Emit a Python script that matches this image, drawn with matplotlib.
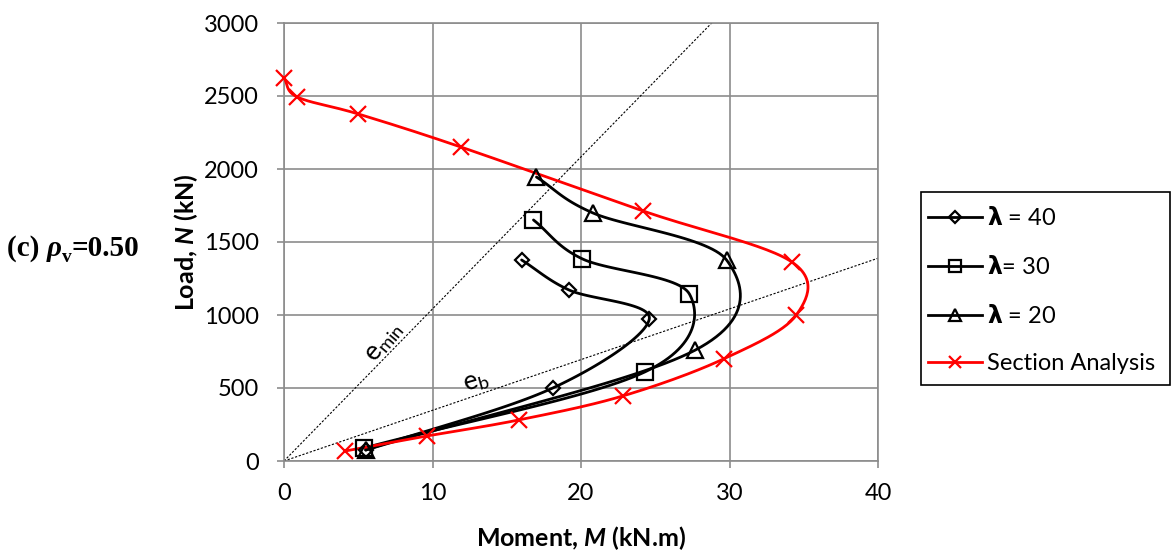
import matplotlib
matplotlib.use("Agg")
import matplotlib.pyplot as plt
from matplotlib.patches import Rectangle
import numpy as np

plt.rcParams['font.family'] = ['Lato', 'DejaVu Sans']
plt.rcParams['mathtext.fontset'] = 'custom'
plt.rcParams['mathtext.rm'] = 'Lato'
plt.rcParams['mathtext.it'] = 'Lato:italic'
plt.rcParams['mathtext.bf'] = 'DejaVu Sans:bold'
plt.rcParams['mathtext.bfit'] = 'Lato:bold:italic'

# moment M (kN.m) and load N (kN)
m_l40 = [16.0, 19.2, 24.6, 18.1, 5.5]
n_l40 = [1377, 1171, 973, 500, 75]
m_l30 = [16.8, 20.1, 27.3, 24.3, 5.4]
n_l30 = [1651, 1384, 1144, 610, 89]
m_l20 = [17.0, 20.8, 29.8, 27.7, 5.5]
n_l20 = [1945, 1699, 1377, 760, 75]
m_sec = [0.0, 0.9, 5.0, 11.9, 24.2, 34.2, 34.5, 29.6, 22.8, 15.8, 9.6, 4.1]
n_sec = [2623, 2493, 2377, 2151, 1712, 1363, 1000, 699, 445, 281, 171, 68]

# eccentricities (m) of the reference lines
e_min = 0.0096
e_b = 0.0288

GRID = '#8c8c8c'
W, H = 1171, 554


def smooth(x, y, n=30):
    # uniform Catmull-Rom through the points, like a spreadsheet "smoothed line"
    p = np.column_stack([x, y]).astype(float)
    p = np.vstack([2 * p[0] - p[1], p, 2 * p[-1] - p[-2]])
    t = np.linspace(0, 1, n)[:, None]
    out = []
    for i in range(1, len(p) - 2):
        p0, p1, p2, p3 = p[i - 1], p[i], p[i + 1], p[i + 2]
        seg = 0.5 * ((2 * p1) + (-p0 + p2) * t + (2 * p0 - 5 * p1 + 4 * p2 - p3) * t ** 2
                     + (-p0 + 3 * p1 - 3 * p2 + p3) * t ** 3)
        out.append(seg if i == 1 else seg[1:])
    out = np.vstack(out)
    return out[:, 0], out[:, 1]


fig = plt.figure(figsize=(W / 100, H / 100), dpi=100)
ax = fig.add_axes([284 / W, 1 - 461 / H, 594 / W, 438 / H])

# reference eccentricity lines through the origin
mm = np.array([0, 40.0])
ax.plot(mm, mm / e_min, color='black', lw=0.8, ls=(0, (2, 1.5)), zorder=2)
ax.plot(mm, mm / e_b, color='black', lw=0.8, ls=(0, (2, 1.5)), zorder=2)
ax.text(6.7, 815, r'e$_{\rm min}$', fontsize=19, rotation=50, ha='center', va='center')
ax.text(12.9, 545, r'e$_{\rm b}$', fontsize=19, rotation=16, ha='center', va='center')

series = [
    (m_l40, n_l40, 'D', 7, 'black', r'$\mathbf{λ}$ = 40'),
    (m_l30, n_l30, 's', 11, 'black', r'$\mathbf{λ}$= 30'),
    (m_l20, n_l20, '^', 11, 'black', r'$\mathbf{λ}$ = 20'),
    (m_sec, n_sec, 'x', 11, 'red', 'Section Analysis'),
]
handles = []
for mx, ny, mk, ms, col, lab in series:
    sx, sy = smooth(mx, ny)
    ax.plot(sx, sy, color=col, lw=2, zorder=3, solid_capstyle='round')
    ax.plot(mx, ny, ls='none', marker=mk, ms=ms, mfc='none', mec=col, mew=1.6, zorder=4,
            clip_on=False)
    h, = ax.plot([], [], color=col, lw=2, marker=mk, ms=ms * 0.85, mfc='none', mec=col,
                 mew=1.6, label=lab)
    handles.append(h)

ax.set_xlim(0, 40)
ax.set_ylim(0, 3000)
ax.set_xticks(range(0, 41, 10))
ax.set_yticks(range(0, 3001, 500))
ax.grid(True, color=GRID, lw=1.2)
ax.set_axisbelow(True)
for s in ax.spines.values():
    s.set_color(GRID)
    s.set_linewidth(1.2)
ax.tick_params(direction='out', length=5, width=1.2, color=GRID, labelsize=17)
ax.tick_params(axis='x', pad=11)
ax.tick_params(axis='y', pad=13)

ax.set_xlabel(r'Moment, $\mathbfit{M}$ (kN.m)', fontsize=18, fontweight='bold', labelpad=14)
ax.set_ylabel(r'Load, $\mathbfit{N}$ (kN)', fontsize=18, fontweight='bold', labelpad=3)

# legend entries without their own frame; box drawn separately
leg = fig.legend(handles=handles, loc='upper left', bbox_to_anchor=(921 / W, 1 - 199 / H),
                 bbox_transform=fig.transFigure, fontsize=17, frameon=False,
                 handlelength=2.3, labelspacing=1.1, borderpad=0.3,
                 handletextpad=0.2, borderaxespad=0)
fig.patches.append(Rectangle((921 / W, 1 - 385 / H), 249 / W, 193 / H, transform=fig.transFigure,
                             fill=False, edgecolor='black', lw=1.2))

# panel tag on the left
serif = 'Liberation Serif'
t1 = fig.text(7 / W, 1 - 262 / H, '(c) ', fontsize=21, fontweight='bold', family=serif,
              va='bottom')
t2 = fig.text(0, 0, 'ρ', fontsize=21, fontweight='bold', style='italic', family=serif,
              va='bottom')
t3 = fig.text(0, 0, 'v', fontsize=14, fontweight='bold', family=serif, va='bottom')
t4 = fig.text(0, 0, '=0.50', fontsize=21, fontweight='bold', family=serif, va='bottom')
fig.canvas.draw()
r = fig.canvas.get_renderer()
inv = fig.transFigure.inverted()
b1 = t1.get_window_extent(r)
x, y0 = inv.transform((b1.x1, b1.y0))
t2.set_position((x, y0))
b2 = t2.get_window_extent(r)
x, _ = inv.transform((b2.x1, b2.y0))
t3.set_position((x, y0 - 4 / H))
b3 = t3.get_window_extent(r)
x, _ = inv.transform((b3.x1, b3.y0))
t4.set_position((x, y0))

fig.savefig('out.png', dpi=100)
